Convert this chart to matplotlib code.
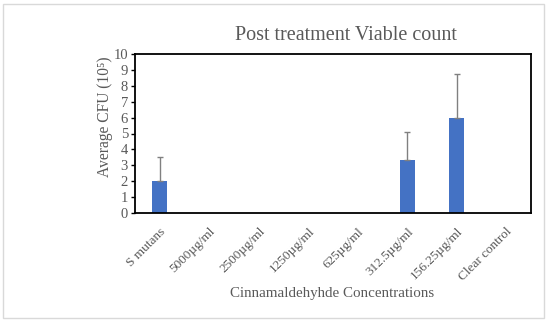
import numpy as np
import matplotlib.pyplot as plt
from matplotlib.patches import Rectangle

categories = ['S mutans', '5000µg/ml', '2500µg/ml', '1250µg/ml', '625µg/ml',
              '312.5µg/ml', '156.25µg/ml', 'Clear control']
values = [2.0, 0, 0, 0, 0, 3.33, 6.0, 0]
errors = [1.5, 0, 0, 0, 0, 1.75, 2.75, 0]

plt.rcParams['font.family'] = ['Liberation Serif', 'DejaVu Serif']
txt = '#595959'

fig = plt.figure(figsize=(5.5, 3.23), dpi=100)
ax = fig.add_axes([135/550, 1-213/323, 396/550, 159/323])

x = np.arange(len(categories))
yerr = np.array([np.zeros(len(errors)), errors])
ax.bar(x, values, width=0.3, color='#4472C4', zorder=2)
# upward error bars only, for the non-zero bars
mask = np.array(errors) > 0
ax.errorbar(x[mask], np.array(values)[mask], yerr=yerr[:, mask], fmt='none',
            ecolor='#808080', elinewidth=1, capsize=2.2, capthick=1, zorder=3)

ax.set_xlim(-0.5, len(categories) - 0.5)
ax.set_ylim(0, 10)
ax.set_yticks(range(0, 11))
ax.set_xticks(x)
ax.set_xticklabels(categories, rotation=45, ha='right', rotation_mode='anchor',
                   color=txt, fontsize=9.5)
ax.tick_params(axis='x', length=0, pad=9)
ax.tick_params(axis='y', length=3, width=1, colors='black', labelcolor=txt,
               labelsize=10.5, pad=2)
for s in ax.spines.values():
    s.set_linewidth(1.3)
    s.set_color('black')

fig.text(105/550, 1-117/323, 'Average CFU (10⁵)', color=txt, fontsize=11.2,
         rotation=90, ha='center', va='center')
fig.text(332/550, 1-293/323, 'Cinnamaldehyhde Concentrations', color=txt,
         fontsize=10.8, ha='center', va='center')
fig.text(346/550, 1-36/323, 'Post treatment Viable count', color=txt,
         fontsize=14.5, ha='center', va='center')

# outer frame
fig.patches.append(Rectangle((3/550, 5/323), 541/550, 314/323, transform=fig.transFigure,
                             fill=False, edgecolor='#d9d9d9', linewidth=1))

fig.savefig('out.png', dpi=100)
